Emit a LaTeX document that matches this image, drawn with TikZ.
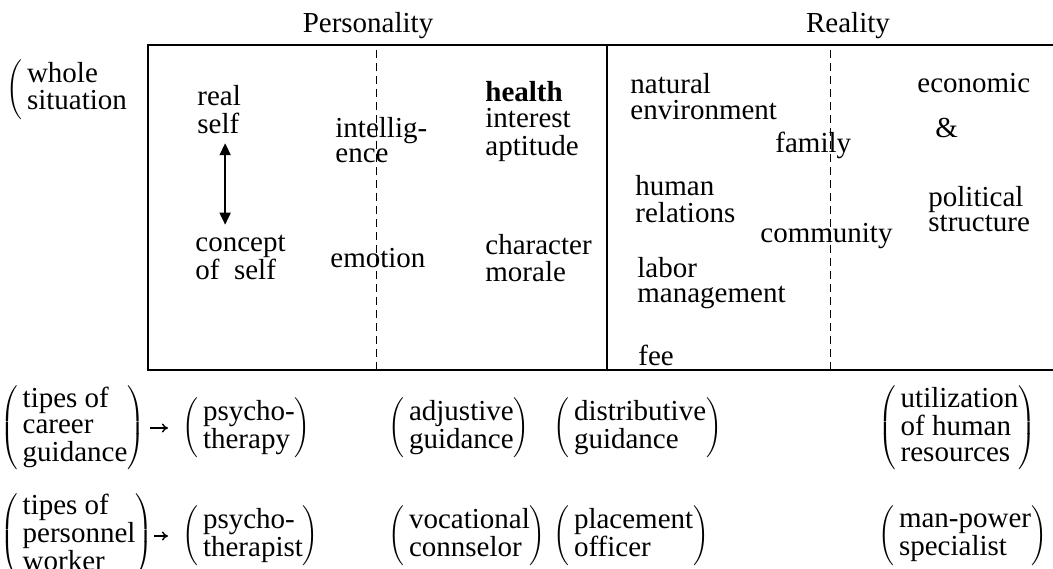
\documentclass[tikz,border=0pt]{standalone}
\usepackage{fontspec}
\setmainfont{Liberation Serif}
\usepackage{tikz}
\usetikzlibrary{arrows.meta, positioning}

% stacked words, first baseline on the node's base
\newcommand{\rows}[1]{\begin{tabular}[t]{@{}l@{}}#1\end{tabular}}
% stacked words in round brackets
\newcommand{\grp}[1]{$\left(\,\begin{tabular}{@{}l@{}}#1\end{tabular}\right)$}
\newcommand{\opengrp}[1]{$\left(\,\begin{tabular}{@{}l@{}}#1\end{tabular}\right.$}

\tikzstyle{word} = [inner sep=0pt, anchor=base west]
\tikzstyle{group} = [inner sep=0pt, anchor=west]
\tikzstyle{frame} = [line width=1.1pt]
\tikzstyle{divide} = [line width=0.5pt, dash pattern=on 4pt off 2.5pt]
\tikzstyle{pairarrow} = [{Triangle[length=6pt,width=5.5pt]}-{Triangle[length=6pt,width=5.5pt]}, line width=0.9pt]
\tikzstyle{leads} = [-{To[length=3pt,width=4.5pt]}, line width=0.7pt]

\begin{document}
\begin{tikzpicture}[x=0.5pt, y=-0.5pt, font=\fontsize{14.5}{12.8}\selectfont]
	\useasboundingbox (0,0) rectangle (1053,568);
	% the frame and its dividers
	\draw[frame] (1053,45) -- (148,45) -- (148,370) -- (1053,370);
	\draw[line width=0.9pt] (607,45) -- (607,370);
	\draw[divide] (376,50) -- (376,370);
	\draw[divide] (830,50) -- (830,370);
	
	\node[inner sep=0pt, anchor=base] (pers) at (368,32) {Personality};
	\node[inner sep=0pt, anchor=base] (real) at (848,32) {Reality};
	\node[group] (whole) at (6,90) {\opengrp{whole\\situation}};
	
	% personality side
	\node[word] (rself) at (197,105) {\rows{real\\self}};
	\node[word] (intel) at (335,137) {\rows{intellig-\\ence}};
	\node[word] (cself) at (195,251) {\rows{concept\\of~ self}};
	\node[word] (emo) at (330,267) {emotion};
	\node[word] (hlt) at (485,101) {\rows{\textbf{health}\\interest\\aptitude}};
	\node[word] (chr) at (485,254) {\rows{character\\morale}};
	\draw[pairarrow, shorten <=1pt, shorten >=4pt] ([xshift=3pt]rself.south) -- ([xshift=3pt]rself.south |- cself.north);
	
	% reality side
	\node[word] (nat) at (630,93) {\rows{natural\\environment}};
	\node[word] (fam) at (775,152) {family};
	\node[word] (hum) at (635,195) {\rows{human\\relations}};
	\node[word] (com) at (760,242) {community};
	\node[word] (lab) at (637,277) {\rows{labor\\management}};
	\node[word] (fee) at (638,365) {fee};
	\node[word] (eco) at (917,92) {economic};
	\node[word] (amp) at (935,137) {\&};
	\node[word] (pol) at (928,206) {\rows{political\\structure}};
	
	% guidance and workers
	\node[group] (tcg) at (0,428) {\grp{tipes of\\career\\guidance}};
	\node[group] (pth) at (182,428) {\grp{psycho-\\therapy}};
	\node[group] (adj) at (388,428) {\grp{adjustive\\guidance}};
	\node[group] (dst) at (553,428) {\grp{distributive\\guidance}};
	\node[group] (uhr) at (878,428) {\grp{utilization\\of human\\resources}};
	\node[group] (tpw) at (0,536) {\grp{tipes of\\personnel\\worker}};
	\node[group] (pst) at (182,536) {\grp{psycho-\\therapist}};
	\node[group] (voc) at (388,536) {\grp{vocational\\connselor}};
	\node[group] (plc) at (553,536) {\grp{placement\\officer}};
	\node[group] (mps) at (878,536) {\grp{man-power\\specialist}};
	\draw[leads, shorten <=2.5pt, shorten >=7pt] (tcg) -- (pth);
	\draw[leads, shorten <=0.5pt, shorten >=7pt] (tpw) -- (pst);
\end{tikzpicture}
\end{document}
